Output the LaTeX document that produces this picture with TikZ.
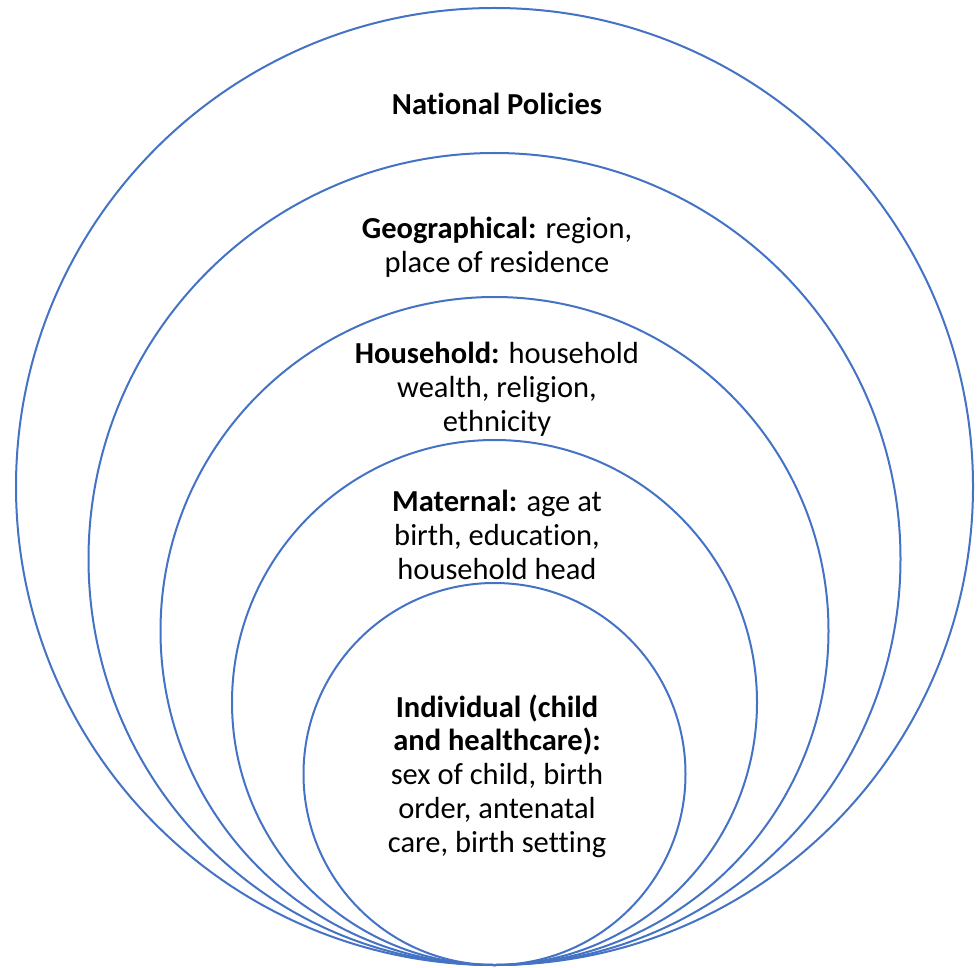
\documentclass[tikz,border=0pt]{standalone}
\usepackage{fontspec}
\setmainfont{Carlito}[Ligatures={NoCommon}]
\definecolor{ringblue}{HTML}{4472C4}
\begin{document}
\begin{tikzpicture}[x=1pt,y=-1pt,
  ring/.style={circle,draw=ringblue,line width=2pt,inner sep=0pt,outer sep=0pt},
  label/.style={align=center,inner sep=0pt,font=\fontsize{30.5}{33.8}\selectfont}]
\useasboundingbox (0,0) rectangle (977,968);
\node[ring,minimum size=957] (c1) at (494.5,486.5) {};
\node[ring,minimum size=812] (c2) at (494.5,559) {};
\node[ring,minimum size=668] (c3) at (494.5,631) {};
\node[ring,minimum size=525] (c4) at (494.5,702.5) {};
\node[ring,minimum size=382] (c5) at (494.5,774) {};
\node[label] (t1) at (497,104) {\textbf{National Policies}};
\node[label] (t2) at (497,247.5) {\textbf{Geographical:} region,\\place of residence};
\node[label] (t3) at (497,389) {\textbf{Household:} household\\wealth, religion,\\ethnicity};
\node[label] (t4) at (497,535) {\textbf{Maternal:} age at\\birth, education,\\household head};
\node[label] (t5) at (497,776) {\textbf{Individual (child}\\\textbf{and healthcare):}\\sex of child, birth\\order, antenatal\\care, birth setting};
\end{tikzpicture}
\end{document}
